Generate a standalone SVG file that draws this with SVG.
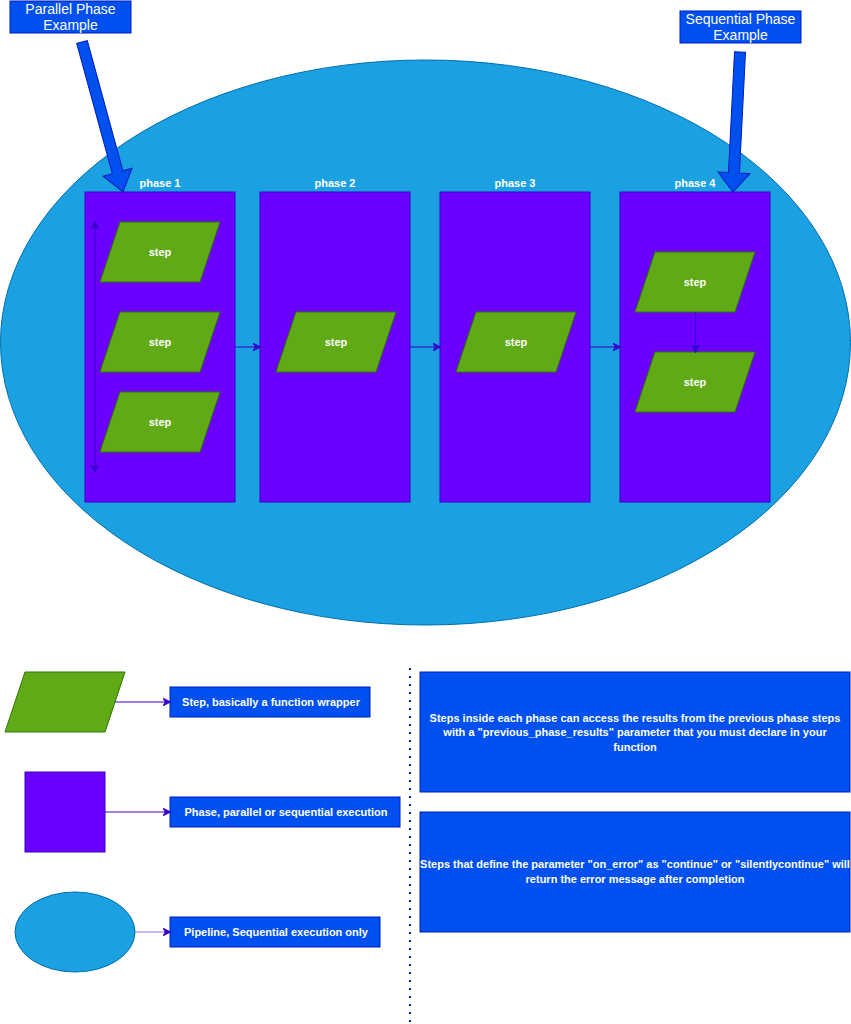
<svg xmlns="http://www.w3.org/2000/svg" width="851" height="1024" viewBox="0 0 851 1024">
<style>
.phase{fill:#6a00ff;stroke:#3700cc;stroke-width:1}
.step{fill:#60a917;stroke:#2d7600;stroke-width:1}
.box{fill:#0050ef;stroke:#001dbc;stroke-width:1}
.blk{fill:#0050ef;stroke:#001dbc;stroke-width:1}
.t{font-family:"Liberation Sans",Arial,sans-serif;fill:#ffffff;text-anchor:middle}
.b{font-weight:bold;font-size:11px}
.r{font-size:14px}
.s{font-weight:bold;font-size:11px}
.c{fill:none;stroke:#3700cc;stroke-width:1}
</style>
<defs>
<marker id="ah" viewBox="0 0 10 10" refX="9" refY="5" markerWidth="8" markerHeight="8" markerUnits="userSpaceOnUse" orient="auto-start-reverse">
<path d="M0,0 L10,5 L0,10 L3,5 z" fill="#3700cc" stroke="#3700cc"/>
</marker>
</defs>

<g id="pipeline">
<ellipse cx="425.5" cy="342.5" rx="425" ry="282.5" fill="#1ba1e2" stroke="#006eaf"/>
</g>

<g id="phase1">
<rect class="phase" x="85" y="192" width="150" height="310"/>
<text class="t b" x="160" y="187">phase 1</text>
</g>
<g id="phase2">
<rect class="phase" x="260" y="192" width="150" height="310"/>
<text class="t b" x="335" y="187">phase 2</text>
</g>
<g id="phase3">
<rect class="phase" x="440" y="192" width="150" height="310"/>
<text class="t b" x="515" y="187">phase 3</text>
</g>
<g id="phase4">
<rect class="phase" x="620" y="192" width="150" height="310"/>
<text class="t b" x="695" y="187">phase 4</text>
</g>

<g id="step1a">
<polygon class="step" points="120,222 220,222 200,282 100,282"/>
<text class="t b" x="160" y="256">step</text>
</g>
<g id="step1b">
<polygon class="step" points="120,312 220,312 200,372 100,372"/>
<text class="t b" x="160" y="346">step</text>
</g>
<g id="step1c">
<polygon class="step" points="120,392 220,392 200,452 100,452"/>
<text class="t b" x="160" y="426">step</text>
</g>
<g id="step2">
<polygon class="step" points="296,312 396,312 376,372 276,372"/>
<text class="t b" x="336" y="346">step</text>
</g>
<g id="step3">
<polygon class="step" points="476,312 576,312 556,372 456,372"/>
<text class="t b" x="516" y="346">step</text>
</g>
<g id="step4a">
<polygon class="step" points="655,252 755,252 735,312 635,312"/>
<text class="t b" x="695" y="286">step</text>
</g>
<g id="step4b">
<polygon class="step" points="655,352 755,352 735,412 635,412"/>
<text class="t b" x="695" y="386">step</text>
</g>

<g id="callout-parallel">
<rect class="box" x="10" y="1" width="121" height="32"/>
<text class="t r" x="70.5" y="14">Parallel Phase</text>
<text class="t r" x="70.5" y="30">Example</text>
</g>
<g id="callout-sequential">
<rect class="box" x="680" y="11" width="121" height="32"/>
<text class="t r" x="740.5" y="24">Sequential Phase</text>
<text class="t r" x="740.5" y="40">Example</text>
</g>

<g id="legend-step">
<polygon class="step" points="25,672 125,672 105,732 5,732"/>
</g>
<g id="legend-phase">
<rect class="phase" x="25" y="772" width="80" height="80"/>
</g>
<g id="legend-pipeline">
<ellipse cx="75" cy="932" rx="60" ry="40" fill="#1ba1e2" stroke="#006eaf"/>
</g>
<g id="legend-step-label">
<rect class="box" x="170" y="687" width="200" height="30"/>
<text class="t b" x="271" y="706">Step, basically a function wrapper</text>
</g>
<g id="legend-phase-label">
<rect class="box" x="170" y="797" width="230" height="30"/>
<text class="t b" x="286" y="816">Phase, parallel or sequential execution</text>
</g>
<g id="legend-pipeline-label">
<rect class="box" x="170" y="917" width="210" height="30"/>
<text class="t b" x="276" y="936">Pipeline, Sequential execution only</text>
</g>

<g id="note1">
<rect class="box" x="420" y="672" width="430" height="120"/>
<text class="t s" x="635" y="722">Steps inside each phase can access the results from the previous phase steps</text>
<text class="t s" x="635" y="736">with a "previous_phase_results" parameter that you must declare in your</text>
<text class="t s" x="635" y="751">function</text>
</g>
<g id="note2">
<rect class="box" x="420" y="812" width="430" height="120"/>
<text class="t s" x="635" y="868">Steps that define the parameter "on_error" as "continue" or "silentlycontinue" will</text>
<text class="t s" x="635" y="883">return the error message after completion</text>
</g>

<g id="connectors">
<line class="c" x1="235" y1="347" x2="260" y2="347" marker-end="url(#ah)"/>
<line class="c" x1="410" y1="347" x2="440" y2="347" marker-end="url(#ah)"/>
<line class="c" x1="590" y1="347" x2="620" y2="347" marker-end="url(#ah)"/>
<line class="c" x1="695.5" y1="312" x2="695.5" y2="352" marker-end="url(#ah)"/>
<line class="c" x1="95" y1="222" x2="95" y2="472" marker-start="url(#ah)" marker-end="url(#ah)"/>
<line class="c" x1="115" y1="702" x2="170" y2="702" marker-end="url(#ah)"/>
<line class="c" x1="105" y1="812" x2="170" y2="812" marker-end="url(#ah)"/>
<line x1="135" y1="932" x2="170" y2="932" stroke="#9673e6" stroke-width="1" marker-end="url(#ah)"/>
<line x1="410" y1="668" x2="410" y2="1024" stroke="#001dbc" stroke-width="2" stroke-dasharray="2 6" fill="none"/>
<g transform="translate(82,42) rotate(74.7)">
<polygon class="blk" points="0,-5.5 135,-5.5 135,-15 155.5,0 135,15 135,5.5 0,5.5"/>
</g>
<g transform="translate(740,52) rotate(92.86)">
<polygon class="blk" points="0,-5.5 121,-5.5 121,-16 140.2,0 121,16 121,5.5 0,5.5"/>
</g>
</g>
</svg>
